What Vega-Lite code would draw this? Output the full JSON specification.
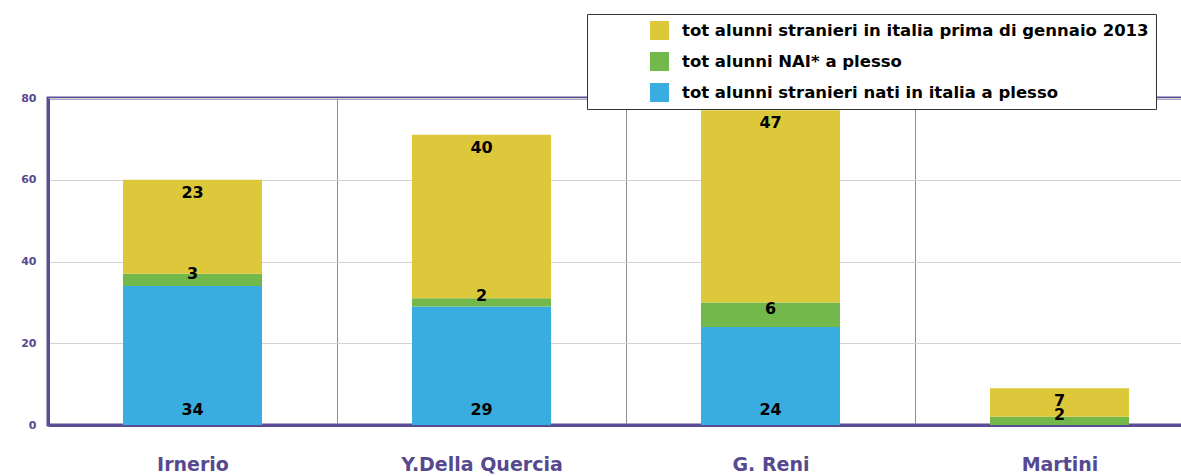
{
  "$schema": "https://vega.github.io/schema/vega-lite/v6.json",
  "autosize": "none",
  "padding": {"left": 48, "top": 98, "right": -23, "bottom": 51},
  "width": 1156,
  "height": 327,
  "background": "white",
  "data": {
    "values": [
      {"scuola": "Irnerio", "serie": "tot alunni stranieri nati in italia a plesso", "v": 34},
      {"scuola": "Irnerio", "serie": "tot alunni NAI* a plesso", "v": 3},
      {"scuola": "Irnerio", "serie": "tot alunni stranieri in italia prima di gennaio 2013", "v": 23},
      {"scuola": "Y.Della Quercia", "serie": "tot alunni stranieri nati in italia a plesso", "v": 29},
      {"scuola": "Y.Della Quercia", "serie": "tot alunni NAI* a plesso", "v": 2},
      {"scuola": "Y.Della Quercia", "serie": "tot alunni stranieri in italia prima di gennaio 2013", "v": 40},
      {"scuola": "G. Reni", "serie": "tot alunni stranieri nati in italia a plesso", "v": 24},
      {"scuola": "G. Reni", "serie": "tot alunni NAI* a plesso", "v": 6},
      {"scuola": "G. Reni", "serie": "tot alunni stranieri in italia prima di gennaio 2013", "v": 47},
      {"scuola": "Martini", "serie": "tot alunni stranieri nati in italia a plesso", "v": 0},
      {"scuola": "Martini", "serie": "tot alunni NAI* a plesso", "v": 2},
      {"scuola": "Martini", "serie": "tot alunni stranieri in italia prima di gennaio 2013", "v": 7}
    ]
  },
  "transform": [
    {"calculate": "indexof(['tot alunni stranieri nati in italia a plesso','tot alunni NAI* a plesso','tot alunni stranieri in italia prima di gennaio 2013'], datum.serie)", "as": "o"},
    {"stack": "v", "groupby": ["scuola"], "sort": [{"field": "o", "order": "ascending"}], "as": ["v0", "v1"]},
    {"calculate": "(datum.v0 + datum.v1) / 2", "as": "vm"}
  ],
  "encoding": {
    "x": {
      "field": "scuola", "type": "nominal", "sort": null,
      "scale": {"paddingInner": 0, "paddingOuter": 0},
      "axis": {
        "title": null, "labelAngle": 0, "ticks": false, "tickBand": "extent",
        "grid": true, "gridColor": "#8f8f8f", "gridWidth": 1,
        "domainColor": "#5B4C96", "domainWidth": 3,
        "labelFont": "DejaVu Sans", "labelFontWeight": "bold", "labelFontSize": 19,
        "labelColor": "#56498F", "labelPadding": 30
      }
    }
  },
  "layer": [
    {
      "mark": {"type": "bar", "width": {"band": 0.481}},
      "encoding": {
        "y": {
          "field": "v1", "type": "quantitative",
          "scale": {"domain": [0, 80], "nice": false},
          "axis": {
            "title": null, "values": [0, 20, 40, 60, 80], "ticks": false,
            "grid": true, "gridColor": "#d6d1cc", "gridWidth": 1,
            "domainColor": "#5B4C96", "domainWidth": 3,
            "labelFont": "DejaVu Sans", "labelFontWeight": "bold", "labelFontSize": 11,
            "labelColor": "#56498F", "labelPadding": 12
          }
        },
        "y2": {"field": "v0"},
        "color": {
          "field": "serie", "type": "nominal",
          "scale": {
            "domain": ["tot alunni stranieri in italia prima di gennaio 2013", "tot alunni NAI* a plesso", "tot alunni stranieri nati in italia a plesso"],
            "range": ["#DCC83A", "#72B84A", "#3AADE0"]
          },
          "legend": {
            "title": null, "orient": "none", "legendX": 539, "legendY": -84,
            "strokeColor": "#333333", "fillColor": "white", "padding": 7,
            "symbolType": "square", "symbolSize": 360, "symbolOffset": 56,
            "symbolStrokeWidth": 0, "labelOffset": 13, "rowPadding": 12,
            "labelFont": "DejaVu Sans", "labelFontWeight": "bold", "labelFontSize": 16.5, "labelColor": "black", "labelLimit": 0
          }
        }
      }
    },
    {
      "transform": [{"filter": "datum.o == 2"}],
      "mark": {"type": "text", "font": "DejaVu Sans", "fontWeight": "bold", "fontSize": 16, "color": "black", "baseline": "middle", "dy": 13},
      "encoding": {"y": {"field": "v1", "type": "quantitative"}, "text": {"field": "v"}}
    },
    {
      "transform": [{"filter": "datum.o == 1 && datum.v > 0"}],
      "mark": {"type": "text", "font": "DejaVu Sans", "fontWeight": "bold", "fontSize": 16, "color": "black", "baseline": "middle", "dy": -6},
      "encoding": {"y": {"field": "vm", "type": "quantitative"}, "text": {"field": "v"}}
    },
    {
      "transform": [{"filter": "datum.o == 0 && datum.v > 0"}],
      "mark": {"type": "text", "font": "DejaVu Sans", "fontWeight": "bold", "fontSize": 16, "color": "black", "baseline": "middle", "dy": -15},
      "encoding": {"y": {"field": "v0", "type": "quantitative"}, "text": {"field": "v"}}
    }
  ],
  "config": {
    "view": {"stroke": "#5B4C96", "strokeWidth": 3}
  }
}
